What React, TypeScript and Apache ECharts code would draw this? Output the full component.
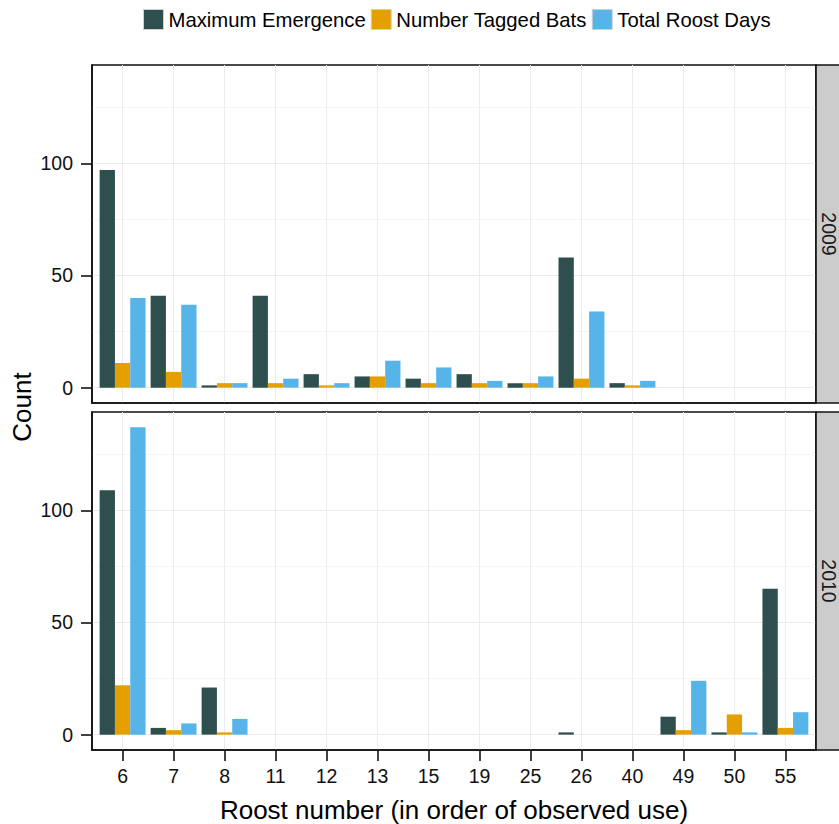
import React, { useEffect, useRef } from 'react';
import * as echarts from 'echarts';

const categories = ['6', '7', '8', '11', '12', '13', '15', '19', '25', '26', '40', '49', '50', '55'];
const seriesNames = ['Maximum Emergence', 'Number Tagged Bats', 'Total Roost Days'];
const colors = ['#2F4F4F', '#E69F00', '#56B4E9'];
const facetLabels = ['2009', '2010'];

const emergence2009 = [97, 41, 1, 41, 6, 5, 4, 6, 2, 58, 2, null, null, null];
const tagged2009 = [11, 7, 2, 2, 1, 5, 2, 2, 2, 4, 1, null, null, null];
const roostDays2009 = [40, 37, 2, 4, 2, 12, 9, 3, 5, 34, 3, null, null, null];

const emergence2010 = [109, 3, 21, null, null, null, null, null, null, 1, null, 8, 1, 65];
const tagged2010 = [22, 2, 1, null, null, null, null, null, null, null, null, 2, 9, 3];
const roostDays2010 = [137, 5, 7, null, null, null, null, null, null, null, null, 24, 1, 10];

const yMajorTicks = [0, 50, 100];
const yGridTicks = [0, 25, 50, 75, 100, 125];

const xTitle = 'Roost number (in order of observed use)';
const yTitle = 'Count';

export default function App() {
  const ref = useRef<HTMLDivElement>(null);
  useEffect(() => {
    const chart = echarts.init(ref.current!, null, { renderer: 'svg' });
    const font = 'Liberation Sans, Arial, Helvetica, sans-serif';
    const ink = '#111111';
    const panels = [
      { top: 65, height: 338 },
      { top: 412, height: 338 },
    ];
    const panelData = [
      [emergence2009, tagged2009, roostDays2009],
      [emergence2010, tagged2010, roostDays2010],
    ];
    const idx = categories.map((_, i) => i);

    const grids = panels.map((p) => ({
      left: 92,
      top: p.top,
      width: 724,
      height: p.height,
      show: true,
      borderColor: ink,
      borderWidth: 1.6,
      backgroundColor: '#ffffff',
    }));

    const xAxes = panels.map((_, k) => ({
      type: 'value',
      gridIndex: k,
      position: 'bottom',
      min: -0.6,
      max: 13.6,
      axisLine: { show: true, onZero: false, lineStyle: { color: ink, width: 1.6 } },
      axisTick: {
        show: k === 1,
        length: 11,
        inside: false,
        customValues: idx,
        lineStyle: { color: ink, width: 1.6 },
      },
      axisLabel: {
        show: k === 1,
        customValues: idx,
        formatter: (v: number) => categories[Math.round(v)] ?? '',
        fontSize: 19.5,
        color: ink,
        margin: 16,
        fontFamily: font,
      },
      splitLine: { show: true, lineStyle: { color: '#ebebeb', width: 1 } },
    }));

    const yAxes: any[] = [];
    panels.forEach((_, k) => {
      yAxes.push({
        type: 'value',
        gridIndex: k,
        min: -6.85,
        max: 143.85,
        position: 'left',
        axisLine: { show: true, onZero: false, lineStyle: { color: ink, width: 1.6 } },
        axisTick: {
          show: true,
          length: 11,
          inside: false,
          customValues: yMajorTicks,
          lineStyle: { color: ink, width: 1.6 },
        },
        axisLabel: {
          customValues: yMajorTicks,
          fontSize: 19.5,
          color: ink,
          margin: 19,
          fontFamily: font,
        },
        splitLine: { show: false },
      });
      yAxes.push({
        type: 'value',
        gridIndex: k,
        min: -6.85,
        max: 143.85,
        position: 'right',
        axisLine: { show: false, onZero: false },
        axisTick: { show: false, customValues: yGridTicks },
        axisLabel: { show: false, customValues: yGridTicks },
        splitLine: { show: true, lineStyle: { color: ['#ebebeb', '#f5f5f5'], width: 1 } },
      });
    });

    const series: any[] = [];
    panelData.forEach((group, k) => {
      group.forEach((values, s) => {
        series.push({
          type: 'bar',
          name: seriesNames[s],
          xAxisIndex: k,
          yAxisIndex: 2 * k,
          barWidth: 15.3,
          barGap: '0%',
          itemStyle: { color: colors[s] },
          data: values
            .map((v, i) => [i, v])
            .filter((d) => d[1] !== null && d[1] !== undefined),
        });
      });
    });

    const graphic: any[] = [];
    panels.forEach((p, k) => {
      graphic.push({
        type: 'rect',
        shape: { x: 816, y: p.top, width: 40, height: p.height },
        style: { fill: '#cccccc', stroke: ink, lineWidth: 1.6 },
        z: 10,
      });
      graphic.push({
        type: 'text',
        x: 829,
        y: p.top + p.height / 2,
        rotation: -Math.PI / 2,
        style: {
          text: facetLabels[k],
          fontSize: 19.5,
          lineHeight: 19.5,
          fill: '#1a1a1a',
          align: 'center',
          verticalAlign: 'middle',
          fontFamily: font,
        },
        z: 11,
      });
    });
    graphic.push({
      type: 'text',
      x: 454,
      y: 810,
      style: {
        text: xTitle,
        fontSize: 26,
        fill: '#000000',
        align: 'center',
        verticalAlign: 'middle',
        fontFamily: font,
      },
    });
    graphic.push({
      type: 'text',
      x: 22,
      y: 407,
      rotation: Math.PI / 2,
      style: {
        text: yTitle,
        fontSize: 26,
        fill: '#000000',
        align: 'center',
        verticalAlign: 'middle',
        fontFamily: font,
      },
    });

    chart.setOption({
      animation: false,
      backgroundColor: '#ffffff',
      legend: {
        data: seriesNames,
        left: 143,
        top: 9,
        padding: 0,
        itemWidth: 20,
        itemHeight: 20,
        itemGap: 5,
        icon: 'rect',
        itemStyle: { borderColor: '#d0d0d0', borderWidth: 1 },
        textStyle: { fontSize: 20.3, color: '#000000', fontFamily: font },
      },
      grid: grids,
      xAxis: xAxes,
      yAxis: yAxes,
      series,
      graphic,
    });
    return () => chart.dispose();
  }, []);
  return (
    <div
      ref={ref}
      style={{ position: 'fixed', left: 0, top: 0, width: 839, height: 824 }}
    />
  );
}
